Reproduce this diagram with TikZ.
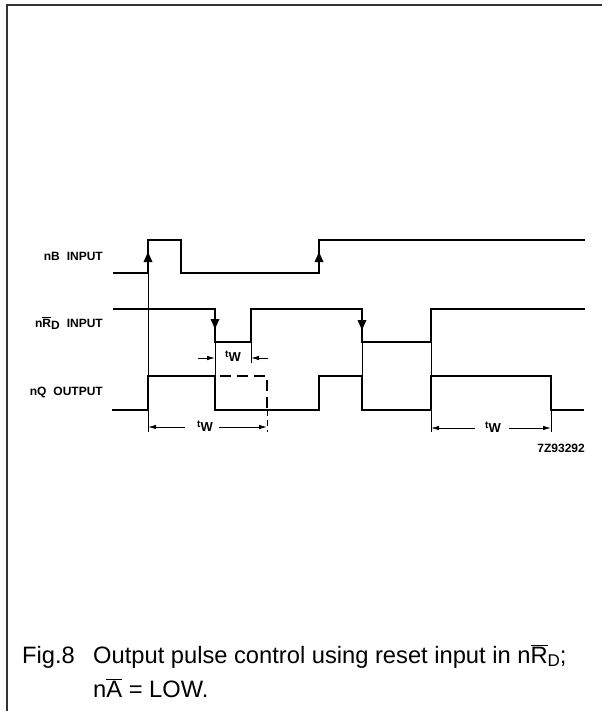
\documentclass[tikz,border=0pt]{standalone}
\usepackage{fontspec}
\setmainfont{Liberation Sans}
\usetikzlibrary{arrows.meta}
\newcommand{\ovbar}[1]{\ensuremath{\overline{\mbox{#1}}}}
\newcommand{\lowsub}[2]{\raisebox{-0.3ex}{\fontsize{#2}{#2}\selectfont #1}}
\newcommand{\tw}{\raisebox{0.3ex}{\fontsize{10}{10}\selectfont t}\lowsub{W}{13}}
\begin{document}
\begin{tikzpicture}[x=1pt,y=-1pt,
  frame/.style={line width=2pt, draw=black!80},
  wave/.style={line width=2.6pt, line join=miter, line cap=butt},
  guide/.style={line width=0.9pt},
  dim/.style={line width=0.9pt, -{Latex[length=8pt,width=4.5pt]}},
  sig/.style={anchor=east, font=\fontsize{12}{14}\selectfont\bfseries, inner sep=0pt},
  twl/.style={font=\fontsize{12}{14}\selectfont\bfseries, inner sep=2pt},
  captext/.style={anchor=base west, font=\fontsize{23.7}{27}\selectfont, inner sep=0pt}]
\useasboundingbox (0,0) rectangle (602,711);
% frame
\draw[frame] (7,711) -- (7,5) -- (602,5);
% signal labels
\node[sig] (lB) at (103,256) {nB\hspace{7pt}INPUT};
\node[sig] (lR) at (103,323) {n\ovbar{R}\lowsub{D}{12}\hspace{7pt}INPUT};
\node[sig] (lQ) at (103,392) {nQ\hspace{7pt}OUTPUT};
% thin guide lines
\draw[guide] (148,273) -- (148,376);
\draw[guide] (148,410) -- (148,432);
\draw[guide] (215,342) -- (215,376);
\draw[guide] (251,342) -- (251,363);
\draw[guide] (362,342) -- (362,376);
\draw[guide] (431,342) -- (431,376);
\draw[guide] (431,410) -- (431,432);
\draw[guide] (551,410) -- (551,432);
\draw[guide, dash pattern=on 6pt off 4pt] (267,410) -- (267,432);
% waveforms
\draw[wave] (113,273) -- (148,273) -- (148,240) -- (181,240) -- (181,273) -- (319,273) -- (319,240) -- (585,240);
\draw[wave] (113,309) -- (215,309) -- (215,342) -- (251,342) -- (251,309) -- (362,309) -- (362,342) -- (431,342) -- (431,309) -- (585,309);
\draw[wave] (112,410) -- (148,410) -- (148,376) -- (215,376) -- (215,410) -- (319,410) -- (319,376) -- (362,376) -- (362,410) -- (431,410) -- (431,376) -- (551,376) -- (551,410) -- (584,410);
\draw[wave, dash pattern=on 11pt off 6pt] (220,376) -- (267,376) -- (267,410);
% edge arrows
\fill (148,252) -- (143.5,262) -- (152.5,262) -- cycle;
\fill (319,252) -- (314.5,262) -- (323.5,262) -- cycle;
\fill (215,329) -- (210.5,319) -- (219.5,319) -- cycle;
\fill (362,330) -- (357.5,320) -- (366.5,320) -- cycle;
% tw dimensions
\node[twl] (tw1) at (233,356) {\tw};
\draw[dim] (198,358) -- (215,358);
\draw[dim] (268,358) -- (251,358);
\node[twl] (tw2) at (205,426) {\tw};
\draw[dim] (185,427) -- (148,427);
\draw[dim] (219,427) -- (267,427);
\node[twl] (tw3) at (493,427) {\tw};
\draw[dim] (475,428) -- (431,428);
\draw[dim] (509,428) -- (551,428);
% code
\node[anchor=east, font=\fontsize{12}{14}\selectfont\bfseries, inner sep=0pt] (code) at (585,448) {7Z93292};
% caption
\node[captext] (fig) at (22,663) {Fig.8};
\node[captext] (c1) at (93,663) {Output pulse control using reset input in n\ovbar{R}\lowsub{D}{17};};
\node[captext] (c2) at (93,697) {n\ovbar{A} = LOW.};
\end{tikzpicture}
\end{document}
